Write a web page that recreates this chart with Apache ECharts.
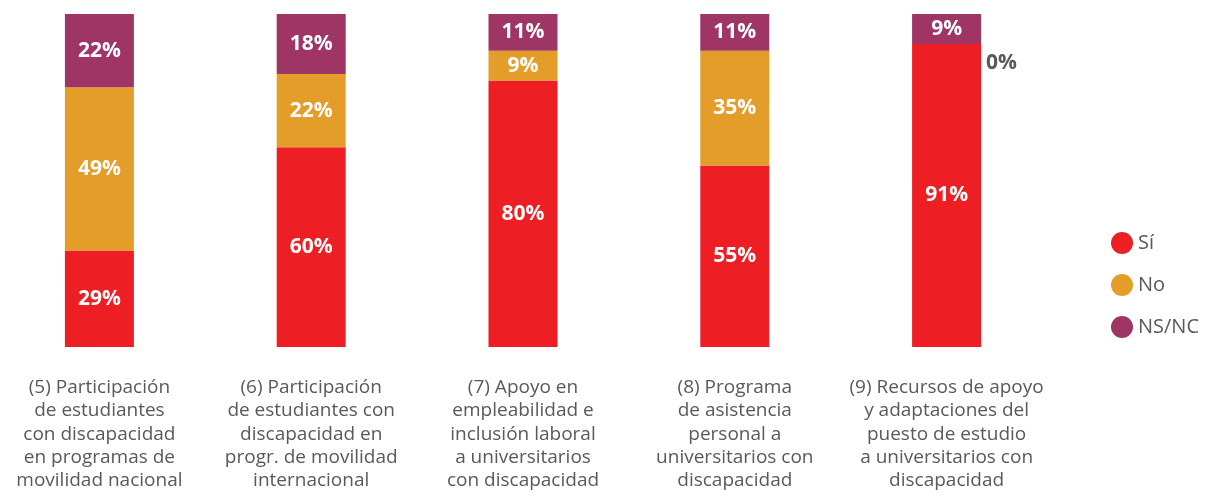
<!DOCTYPE html>
<html>
<head>
<meta charset="utf-8">
<script src="https://cdn.jsdelivr.net/npm/echarts@6/dist/echarts.min.js"></script>
<style>
html, body { margin: 0; padding: 0; background: #fff; overflow: hidden; }
#chart { width: 1212px; height: 497px; margin-left: -7px; }
</style>
</head>
<body>
<div id="chart"></div>
<script>
var categories = [
    '(5) Participación\nde estudiantes\ncon discapacidad\nen programas de\nmovilidad nacional',
    '(6) Participación\nde estudiantes con\ndiscapacidad en\nprogr. de movilidad\ninternacional',
    '(7) Apoyo en\nempleabilidad e\ninclusión laboral\na universitarios\ncon discapacidad',
    '(8) Programa\nde asistencia\npersonal a\nuniversitarios con\ndiscapacidad',
    '(9) Recursos de apoyo\ny adaptaciones del\npuesto de estudio\na universitarios con\ndiscapacidad'
];
var si = [29, 60, 80, 54.5, 91];
var no = [49, 22, 9, 34.5, 0];
var nsnc = [22, 18, 11, 11, 9];

var colores = ['#ed1f24', '#e59d2a', '#9e3565'];
var fuente = '"Open Sans", "Noto Sans", sans-serif';

function etiqueta(p) {
    return Math.round(p.value) + '%';
}

// el 0% va fuera de la barra, en gris
function datosNo(arr) {
    return arr.map(function (v) {
        if (v === 0) {
            return {
                value: v,
                label: { position: 'right', color: '#595959', offset: [0, 19] }
            };
        }
        return v;
    });
}

var labelComun = {
    show: true,
    position: 'inside',
    color: '#fff',
    fontFamily: fuente,
    fontWeight: 'bold',
    fontSize: 21,
    formatter: etiqueta
};

var myChart = echarts.init(document.getElementById('chart'));
myChart.setOption({
    animation: false,
    grid: { left: 0.5, top: 14, width: 1059, bottom: 150 },
    legend: {
        orient: 'vertical',
        left: 1118,
        top: 232,
        padding: 0,
        icon: 'circle',
        itemWidth: 22,
        itemHeight: 22,
        itemGap: 20,
        textStyle: { fontFamily: fuente, fontSize: 20, color: '#595959' },
        data: ['Sí', 'No', 'NS/NC']
    },
    xAxis: {
        type: 'category',
        data: categories,
        axisLine: { show: false },
        axisTick: { show: false },
        axisLabel: {
            interval: 0,
            margin: 29,
            color: '#595959',
            fontFamily: fuente,
            fontSize: 19,
            lineHeight: 23.3
        }
    },
    yAxis: { type: 'value', min: 0, max: 100, show: false },
    series: [
        { name: 'Sí', type: 'bar', stack: 't', barWidth: 69, data: si,
          itemStyle: { color: colores[0] }, label: labelComun },
        { name: 'No', type: 'bar', stack: 't', barWidth: 69, data: datosNo(no),
          itemStyle: { color: colores[1] }, label: labelComun },
        { name: 'NS/NC', type: 'bar', stack: 't', barWidth: 69, data: nsnc,
          itemStyle: { color: colores[2] }, label: labelComun }
    ]
});
</script>
</body>
</html>
